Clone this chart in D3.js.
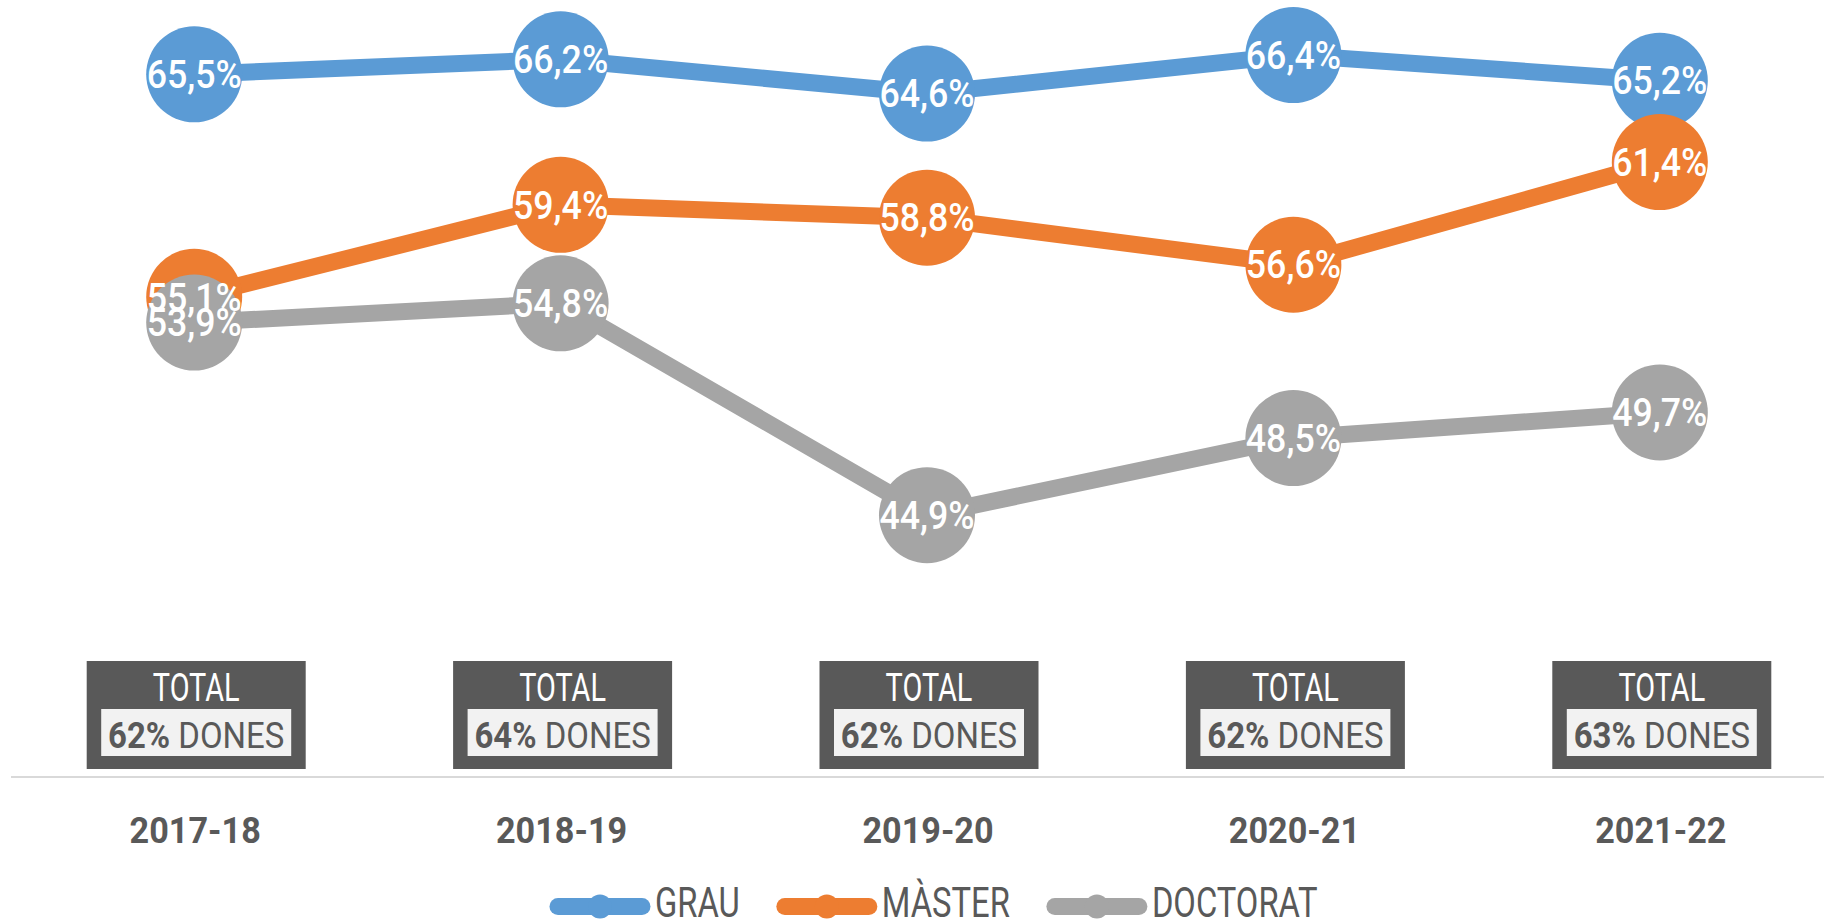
<!DOCTYPE html>
<html>
<head>
<meta charset="utf-8">
<style>
  html, body { margin: 0; padding: 0; background: #fff; }
  svg { display: block; font-family: "Roboto", "Liberation Sans", sans-serif; }
</style>
</head>
<body>
<svg width="1824" height="919"></svg>

<script src="https://d3js.org/d3.v7.min.js"></script>

<script>
// data
var years = ["2017-18", "2018-19", "2019-20", "2020-21", "2021-22"];
var grau = [65.5, 66.2, 64.6, 66.4, 65.2];
var master = [55.1, 59.4, 58.8, 56.6, 61.4];
var doctorat = [53.9, 54.8, 44.9, 48.5, 49.7];
var totals = [62, 64, 62, 62, 63];
var seriesNames = ["GRAU", "MÀSTER", "DOCTORAT"];
var seriesColors = ["#5b9bd5", "#ed7d31", "#a5a5a5"];

var svg = d3.select("svg"),
    width = +svg.attr("width"),
    height = +svg.attr("height");

var textGray = "#595959";
var fmt = function(v) { return d3.format(".1f")(v).replace(".", ",") + "%"; };
// no condensed font installed, so squeeze text horizontally
var squeeze = function(px, py, sx) { return "translate(" + px + "," + py + ") scale(" + sx + ",1)"; };

var x = d3.scalePoint()
    .domain(years)
    .range([11, 1843])
    .padding(0.5);

var y = d3.scaleLinear()
    .domain([40, 70])
    .range([620, -22]);

var series = [grau, master, doctorat].map(function(vals, i) {
  return {
    name: seriesNames[i],
    color: seriesColors[i],
    values: vals.map(function(v, j) { return {year: years[j], value: v}; })
  };
});

var line = d3.line()
    .x(function(d) { return x(d.year); })
    .y(function(d) { return y(d.value); });

// lines + markers, one series after another
var sg = svg.selectAll(".series")
  .data(series)
  .enter().append("g")
    .attr("class", "series");

sg.append("path")
    .attr("d", function(d) { return line(d.values); })
    .attr("fill", "none")
    .attr("stroke", function(d) { return d.color; })
    .attr("stroke-width", 17)
    .attr("stroke-linejoin", "round");

sg.selectAll("circle")
  .data(function(d) { return d.values.map(function(v) { return {v: v, color: d.color}; }); })
  .enter().append("circle")
    .attr("cx", function(d) { return x(d.v.year); })
    .attr("cy", function(d) { return y(d.v.value); })
    .attr("r", 48)
    .attr("fill", function(d) { return d.color; });

// value labels on top of everything
var labels = [];
series.forEach(function(s) { s.values.forEach(function(v) { labels.push(v); }); });

svg.append("g").selectAll("text")
  .data(labels)
  .enter().append("text")
    .attr("transform", function(d) { return squeeze(x(d.year), y(d.value), 0.94); })
    .attr("dy", "0.36em")
    .attr("text-anchor", "middle")
    .attr("font-size", 38)
    .attr("font-weight", 500)
    .attr("fill", "#fff")
    .text(function(d) { return fmt(d.value); });

// TOTAL boxes
var box = svg.append("g").selectAll("g")
  .data(years.map(function(yr, i) { return {year: yr, total: totals[i]}; }))
  .enter().append("g")
    .attr("transform", function(d) { return "translate(" + (x(d.year) + 2) + ",0)"; });

box.append("rect")
    .attr("x", -109.5).attr("y", 661)
    .attr("width", 219).attr("height", 108)
    .attr("fill", "#595959");

box.append("rect")
    .attr("x", -95).attr("y", 709)
    .attr("width", 190).attr("height", 47)
    .attr("fill", "#f2f2f2");

box.append("text")
    .attr("transform", squeeze(0, 701, 0.76))
    .attr("text-anchor", "middle")
    .attr("font-size", 38)
    .attr("fill", "#fff")
    .text("TOTAL");

var tot = box.append("text")
    .attr("transform", squeeze(0, 748, 0.89))
    .attr("text-anchor", "middle")
    .attr("font-size", 37)
    .attr("fill", textGray);
tot.append("tspan")
    .attr("font-weight", "bold")
    .text(function(d) { return d.total + "%"; });
tot.append("tspan")
    .text(" DONES");

// axis baseline + category labels
svg.append("line")
    .attr("x1", 11).attr("x2", width)
    .attr("y1", 777).attr("y2", 777)
    .attr("stroke", "#d9d9d9")
    .attr("stroke-width", 2);

svg.append("g").selectAll("text")
  .data(years)
  .enter().append("text")
    .attr("transform", function(d) { return squeeze(x(d) + 1, 843, 0.95); })
    .attr("text-anchor", "middle")
    .attr("font-size", 36)
    .attr("font-weight", "bold")
    .attr("fill", textGray)
    .text(function(d) { return d; });

// legend
var legend = svg.append("g");
var item = legend.selectAll("g")
  .data(series)
  .enter().append("g");

item.append("line")
    .attr("x1", 8).attr("x2", 92)
    .attr("y1", 906.5).attr("y2", 906.5)
    .attr("stroke", function(d) { return d.color; })
    .attr("stroke-width", 17)
    .attr("stroke-linecap", "round");

item.append("circle")
    .attr("cx", 50).attr("cy", 906.5)
    .attr("r", 12)
    .attr("fill", function(d) { return d.color; });

item.append("text")
    .attr("transform", squeeze(105, 917, 0.78))
    .attr("font-size", 42)
    .attr("fill", textGray)
    .text(function(d) { return d.name; });

var offset = 0, widths = [];
item.each(function() { widths.push(this.getBBox().width); });
item.attr("transform", function(d, i) {
  var t = "translate(" + offset + ",0)";
  offset += widths[i] + 45;
  return t;
});
legend.attr("transform", "translate(550,0)");
</script>
</body>
</html>
